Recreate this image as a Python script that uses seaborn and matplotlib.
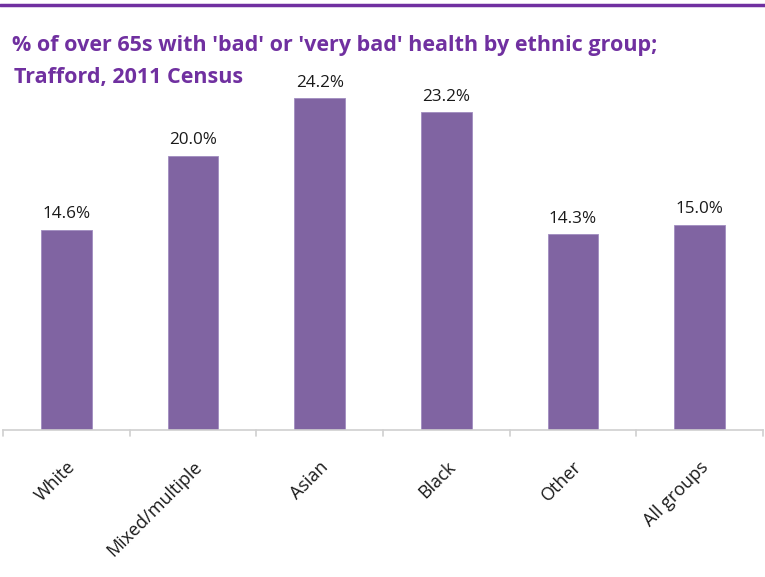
import matplotlib
matplotlib.use("Agg")
import matplotlib.pyplot as plt
import seaborn as sns
import pandas as pd
from matplotlib.lines import Line2D

categories = ["White", "Mixed/multiple", "Asian", "Black", "Other", "All groups"]
values = [14.6, 20.0, 24.2, 23.2, 14.3, 15.0]
value_labels = ["14.6%", "20.0%", "24.2%", "23.2%", "14.3%", "15.0%"]

df = pd.DataFrame({"group": categories, "pct": values})

sns.set_theme(style="white")
plt.rcParams["font.family"] = ["Open Sans", "DejaVu Sans"]

fig = plt.figure(figsize=(7.65, 5.77), dpi=100)
ax = fig.add_axes([3/765, 147/577, 760/765, 411/577])

sns.barplot(data=df, x="group", y="pct", color="#8064A2", saturation=1,
            width=0.4, ax=ax, edgecolor="#A08CC0", linewidth=0.6)

ax.set_ylim(0, 30)
ax.set_xlim(-0.5, len(categories) - 0.5)
ax.set_xlabel("")
ax.set_ylabel("")
ax.set_yticks([])
for s in ["left", "right", "top"]:
    ax.spines[s].set_visible(False)
ax.spines["bottom"].set_color("#D0D0D0")
ax.spines["bottom"].set_linewidth(1.2)

for i, (v, lab) in enumerate(zip(values, value_labels)):
    ax.text(i, v + 0.55, lab, ha="center", va="bottom", fontsize=12.3,
            color="#1a1a1a")

ax.set_xticks(range(len(categories)))
ax.set_xticklabels(categories, rotation=45, ha="right", rotation_mode="anchor",
                   fontsize=13, color="#1a1a1a")
ax.tick_params(axis="x", length=0, pad=20)
for b in [i - 0.5 for i in range(len(categories) + 1)]:
    ax.plot([b, b], [0, -0.45], color="#D0D0D0", lw=1.2, clip_on=False)

fig.text(12/765, 1 - 45/577, "% of over 65s with 'bad' or 'very bad' health by ethnic group;",
         fontsize=15.5, fontweight="bold", color="#7030A0", va="center", ha="left")
fig.text(14/765, 1 - 77/577, "Trafford, 2011 Census",
         fontsize=15.5, fontweight="bold", color="#7030A0", va="center", ha="left")

fig.add_artist(Line2D([0, 1], [1 - 5/577, 1 - 5/577], color="#7030A0", lw=2.5,
                      transform=fig.transFigure))

fig.savefig("out.png", dpi=100)
